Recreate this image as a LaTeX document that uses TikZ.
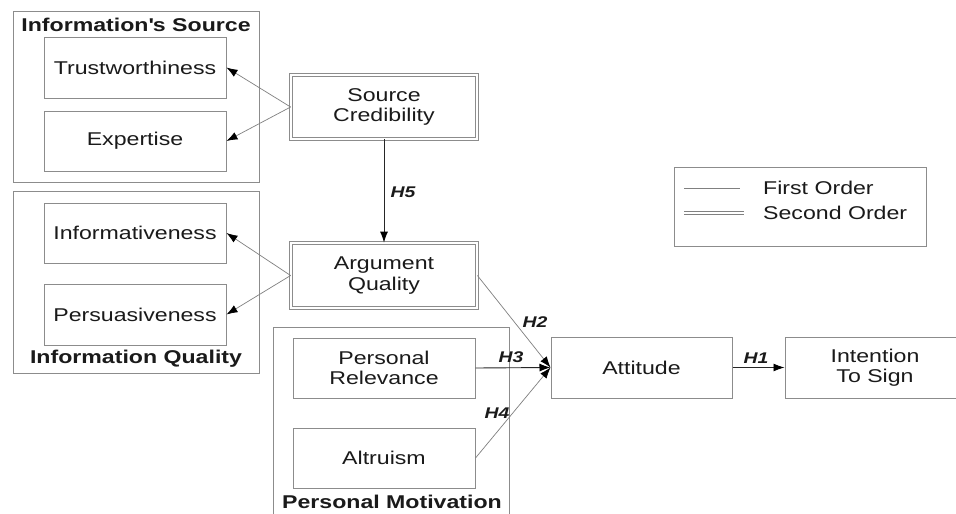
\documentclass[tikz,border=0pt]{standalone}
\usepackage{fontspec}
\setmainfont{Liberation Sans}[FakeStretch=1.25]
\usetikzlibrary{arrows.meta}
\definecolor{boxgray}{HTML}{8C8C8C}
\definecolor{txt}{HTML}{1A1A1A}
\begin{document}
\begin{tikzpicture}[x=1pt,y=-1pt,
  every node/.style={text=txt},
  dimbox/.style={draw=boxgray, line width=1pt, inner sep=0pt, align=center,
    font=\fontsize{18.5}{20.5}\selectfont, minimum width=182pt, minimum height=60pt},
  dblbox/.style={dimbox, double=white, double distance=2.6pt, line width=0.8pt, minimum width=186pt, minimum height=64pt},
  grp/.style={draw=boxgray, line width=1pt, inner sep=0pt},
  gtitle/.style={font=\bfseries\fontsize{18.5}{20}\selectfont, inner sep=0pt},
  hlab/.style={font=\bfseries\itshape\fontsize{15.5}{17}\selectfont, inner sep=0pt},
  thin/.style={draw=gray, line width=0.7pt, -{Latex[length=11pt,width=8pt,black]}},
  strong/.style={draw=black!85, line width=0.9pt, -{Latex[length=11pt,width=8pt,black]}}]
\clip (0,0) rectangle (956,514);
\fill[white] (0,0) rectangle (956,514);
% group boxes
\node[grp, minimum width=246pt, minimum height=171pt] (gsrc) at (136,96.5) {};
\node[grp, minimum width=246pt, minimum height=182pt] (gqual) at (136,282) {};
\node[grp, minimum width=236pt, minimum height=193pt] (gmot) at (391,423.5) {};
\node[gtitle] (tsrc) at (136,25) {Information\textquotesingle s Source};
\node[gtitle] (tqual) at (136,359) {Information Quality};
\node[gtitle] (tmot) at (392,502) {Personal Motivation};
% dimension boxes
\node[dimbox, minimum height=61pt] (trust) at (135,67.5) {Trustworthiness};
\node[dimbox] (expert) at (135,141) {Expertise};
\node[dimbox] (inform) at (135,233) {Informativeness};
\node[dimbox, minimum height=61pt] (pers) at (135,314.5) {Persuasiveness};
\node[dimbox] (prel) at (384,368) {Personal\\Relevance};
\node[dimbox] (altr) at (384,458) {Altruism};
% second order
\node[dblbox] (scred) at (384,107) {Source\\Credibility};
\node[dblbox, minimum height=65pt] (argq) at (384,275.5) {Argument\\Quality};
% outcomes
\node[dimbox, minimum width=181pt, minimum height=61pt] (att) at (641.5,367.5) {Attitude};
\node[dimbox, minimum width=180pt, minimum height=61pt] (its) at (875,367.5) {Intention\\To Sign};
% legend
\node[grp, minimum width=252pt, minimum height=79pt] (leg) at (800,206.5) {};
\coordinate (l1a) at (684,188); \coordinate (l1b) at (740,188);
\coordinate (l2a) at (684,213); \coordinate (l2b) at (744,213);
\draw[draw=gray, line width=1pt] (l1a) -- (l1b);
\draw[draw=gray, line width=0.9pt, double=white, double distance=1.6pt] (l2a) -- (l2b);
\node[anchor=west, inner sep=0pt, font=\fontsize{18.5}{20}\selectfont] (lfirst) at (763,188) {First Order};
\node[anchor=west, inner sep=0pt, font=\fontsize{18.5}{20}\selectfont] (lsecond) at (763,213) {Second Order};
% connectors
\draw[thin] (scred.west) -- (trust.east);
\draw[thin] (scred.west) -- (expert.east);
\draw[thin] (argq.west) -- (inform.east);
\draw[thin] (argq.west) -- (pers.east);
\draw[strong] (scred.south) -- (argq.north);
\draw[thin] (argq.east) -- (att.west);
\draw[strong] (prel.east) -- (att.west);
\draw[thin] (altr.east) -- (att.west);
\draw[strong] (att.east) -- (its.west);
% labels
\node[hlab] (h5) at (403,192) {H5};
\node[hlab] (h2) at (535,322) {H2};
\node[hlab] (h3) at (511,357) {H3};
\node[hlab] (h4) at (497,413) {H4};
\node[hlab] (h1) at (756,358) {H1};
\end{tikzpicture}
\end{document}
